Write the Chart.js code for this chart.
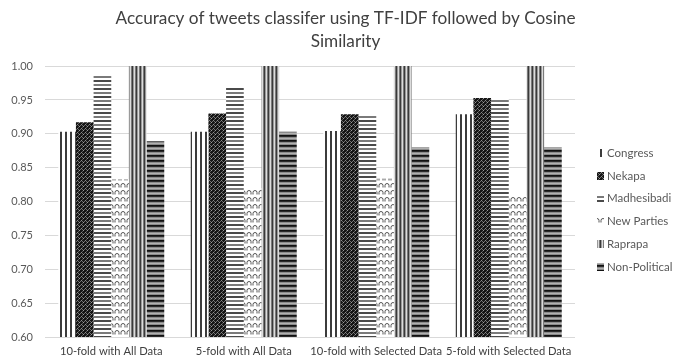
<!DOCTYPE html>
<html>
<head>
<meta charset="utf-8">
<script src="https://cdn.jsdelivr.net/npm/chart.js@4.4.1/dist/chart.umd.min.js"></script>
<style>
  html, body { margin: 0; padding: 0; background: #ffffff; }
  #wrap { width: 680px; height: 360px; }
</style>
</head>
<body>
<div id="wrap"><canvas id="chart" width="680" height="360"></canvas></div>
<script>
// Evaluation setups on the x axis
const categories = [
  '10-fold with All Data',
  '5-fold with All Data',
  '10-fold with Selected Data',
  '5-fold with Selected Data'
];

// Accuracy per party class
const congress     = [0.903, 0.903, 0.904, 0.929];
const nekapa       = [0.917, 0.930, 0.929, 0.953];
const madhesibadi  = [0.987, 0.968, 0.927, 0.952];
const newParties   = [0.833, 0.820, 0.834, 0.809];
const raprapa      = [1.000, 1.000, 1.000, 1.000];
const nonPolitical = [0.889, 0.903, 0.880, 0.880];

const seriesNames = ['Congress', 'Nekapa', 'Madhesibadi', 'New Parties', 'Raprapa', 'Non-Political'];

// y axis range and tick step
const yMin = 0.60;
const yMax = 1.00;
const yStep = 0.05;

const canvas = document.getElementById('chart');
const ctx = canvas.getContext('2d');

// Build a repeating fill from a small hand-painted tile
function makePattern(w, h, paint) {
  const tile = document.createElement('canvas');
  tile.width = w;
  tile.height = h;
  const t = tile.getContext('2d');
  t.fillStyle = '#ffffff';
  t.fillRect(0, 0, w, h);
  paint(t);
  return ctx.createPattern(tile, 'repeat');
}

function px(t, x, y, c) { t.fillStyle = c; t.fillRect(x, y, 1, 1); }

// Congress: wide vertical stripes on white
const patCongress = makePattern(5, 1, t => {
  t.fillStyle = '#3c3c3c'; t.fillRect(0, 0, 2, 1);
});

// Nekapa: dark ground with small light rings
const patNekapa = makePattern(4, 4, t => {
  t.fillStyle = '#151515'; t.fillRect(0, 0, 4, 4);
  px(t, 1, 0, '#8a8a8a'); px(t, 0, 1, '#6a6a6a'); px(t, 2, 1, '#6a6a6a');
  px(t, 3, 2, '#9a9a9a'); px(t, 2, 3, '#5a5a5a');
});

// Madhesibadi: horizontal lines on white
const patMadhesibadi = makePattern(1, 8, t => {
  t.fillStyle = '#4a4a4a'; t.fillRect(0, 0, 1, 2);
  t.fillStyle = '#7a7a7a'; t.fillRect(0, 4, 1, 2);
});

// New Parties: wave outline on white
const patNewParties = makePattern(6, 7, t => {
  t.strokeStyle = '#555555';
  t.lineWidth = 1;
  t.beginPath();
  t.arc(3, 3.5, 2, Math.PI, 0);
  t.stroke();
  t.beginPath();
  t.moveTo(1, 3.5); t.lineTo(1, 5.5);
  t.moveTo(5, 3.5); t.lineTo(5, 5.5);
  t.stroke();
});

// Raprapa: narrow vertical lines
const patRaprapa = makePattern(4, 1, t => {
  px(t, 0, 0, '#3a3a3a'); px(t, 1, 0, '#9a9a9a');
  px(t, 2, 0, '#dcdcdc'); px(t, 3, 0, '#7a7a7a');
});

// Non-Political: dense horizontal lines
const patNonPolitical = makePattern(1, 5, t => {
  px(t, 0, 0, '#111111'); px(t, 0, 1, '#2a2a2a');
  px(t, 0, 2, '#8a8a8a'); px(t, 0, 3, '#b0b0b0'); px(t, 0, 4, '#8a8a8a');
});

const fills = [patCongress, patNekapa, patMadhesibadi, patNewParties, patRaprapa, patNonPolitical];
const values = [congress, nekapa, madhesibadi, newParties, raprapa, nonPolitical];

const datasets = seriesNames.map((name, i) => ({
  label: name,
  data: values[i],
  backgroundColor: fills[i],
  borderWidth: 0,
  barPercentage: 1.0,
  categoryPercentage: 0.8,
  yAxisID: 'y'
}));

const textColor = '#595959';
const titleColor = '#404040';
const fontFamily = 'Lato, "Open Sans", sans-serif';

// Side legend with small patterned swatches
const sideLegend = {
  id: 'sideLegend',
  afterDraw(chart) {
    const c = chart.ctx;
    const area = chart.chartArea;
    const x0 = area.right + 22;
    const yStart = 153;
    const gap = 22.8;
    c.save();
    c.font = '11.5px ' + fontFamily;
    c.textBaseline = 'middle';
    c.textAlign = 'left';
    chart.data.datasets.forEach((ds, i) => {
      const y = yStart + i * gap;
      c.fillStyle = ds.backgroundColor;
      c.fillRect(x0, Math.round(y - 4), 7, 8);
      c.fillStyle = textColor;
      c.fillText(ds.label, x0 + 10, y);
    });
    c.restore();
  }
};

new Chart(canvas, {
  type: 'bar',
  data: { labels: categories, datasets },
  options: {
    responsive: false,
    animation: false,
    devicePixelRatio: 1,
    layout: { padding: { left: 11, right: 0, top: 0, bottom: 0 } },
    plugins: {
      legend: { display: false },
      tooltip: { enabled: false },
      title: {
        display: true,
        text: ['Accuracy of tweets classifer using TF-IDF followed by Cosine', 'Similarity'],
        color: titleColor,
        font: { family: fontFamily, size: 17.2, weight: 'normal', lineHeight: 1.34 },
        padding: { top: 7, bottom: 13 }
      }
    },
    scales: {
      x: {
        grid: { display: false, drawTicks: false },
        border: { display: false },
        ticks: {
          color: titleColor,
          font: { family: fontFamily, size: 11.2 },
          padding: 8,
          maxRotation: 0,
          autoSkip: false
        },
        afterFit(scale) { scale.height = 23; }
      },
      y: {
        min: yMin,
        max: yMax,
        grid: { color: '#d9d9d9', drawTicks: false, lineWidth: 1 },
        border: { display: false },
        ticks: {
          stepSize: yStep,
          color: textColor,
          font: { family: fontFamily, size: 11 },
          padding: 12,
          callback: v => Number(v).toFixed(2)
        },
        afterFit(scale) { scale.width = 34; }
      },
      // empty right-hand axis that reserves room for the side legend
      legendSpace: {
        type: 'linear',
        position: 'right',
        display: true,
        grid: { display: false, drawOnChartArea: false, drawTicks: false },
        border: { display: false },
        ticks: { display: false },
        afterFit(scale) { scale.width = 105; }
      }
    }
  },
  plugins: [sideLegend]
});
</script>
</body>
</html>
